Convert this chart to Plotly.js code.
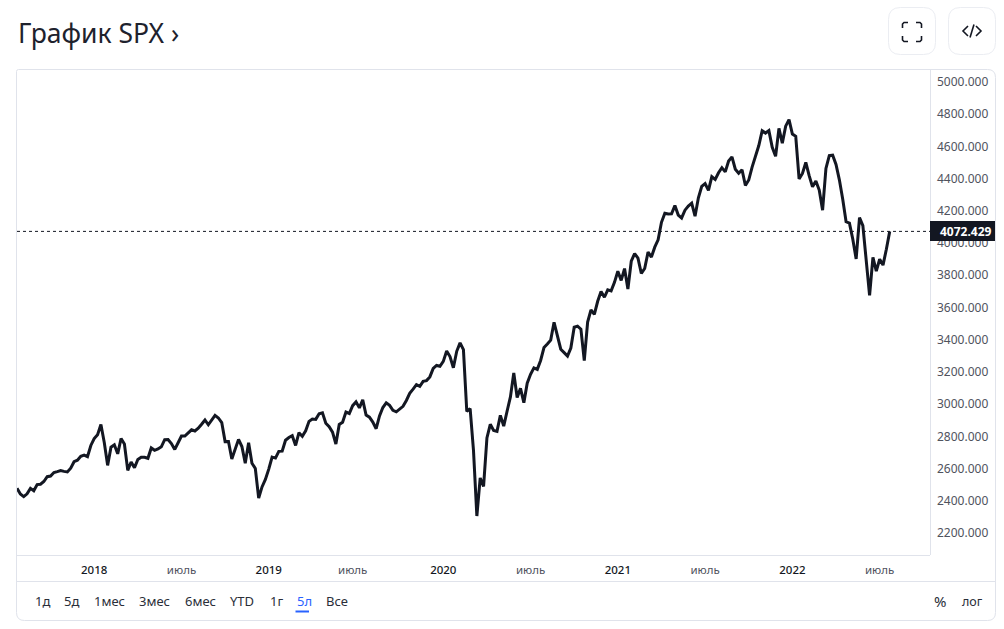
<!DOCTYPE html>
<html>
<head>
<meta charset="utf-8">
<script src="https://cdn.plot.ly/plotly-3.0.1.min.js"></script>
<style>html,body{margin:0;padding:0;background:#fff;overflow:hidden}#chart{width:1004px;height:629px}</style>
</head>
<body>
<div id="chart"></div>
<script>
// Weekly closes, one array per calendar year
const close2017 = [2476.83,2441.32,2425.55,2443.05,2476.55,2461.43,2500.23,2502.22,2519.36,2549.33,2553.17,2575.21,2581.07,2587.84,2582.30,2578.85,2602.42,2642.22,2651.50,2675.81,2683.34,2673.61];
const close2018 = [2743.15,2786.24,2810.30,2872.87,2762.13,2619.55,2732.22,2747.30,2691.25,2786.57,2752.01,2588.26,2640.87,2604.47,2656.30,2670.14,2669.91,2663.42,2727.72,2712.97,2721.33,2734.62,2779.03,2779.66,2754.88,2718.37,2759.82,2801.31,2801.83,2818.82,2840.35,2833.28,2850.13,2874.69,2901.52,2871.68,2904.98,2929.67,2913.98,2885.57,2767.13,2767.78,2658.69,2723.06,2781.01,2736.27,2632.56,2760.17,2633.08,2599.95,2416.62,2485.74];
const close2019 = [2531.94,2596.26,2670.71,2664.76,2706.53,2707.88,2775.60,2792.67,2803.69,2743.07,2822.48,2800.71,2834.40,2892.74,2907.41,2905.03,2939.88,2945.64,2881.40,2859.53,2826.06,2752.06,2873.34,2886.98,2950.46,2941.76,2990.41,3013.77,2976.61,3025.86,2932.05,2918.65,2888.68,2847.11,2926.46,2978.71,3007.39,2992.07,2961.79,2952.01,2970.27,2986.20,3022.55,3066.91,3093.08,3120.46,3110.29,3140.98,3145.91,3168.80,3221.22,3240.02];
const close2020 = [3234.85,3265.35,3329.62,3295.47,3225.52,3327.71,3380.16,3337.75,2954.22,2972.37,2711.02,2304.92,2541.47,2488.65,2789.82,2874.56,2836.74,2830.71,2929.80,2863.70,2955.45,3044.31,3193.93,3041.31,3097.74,3009.05,3130.01,3185.04,3224.73,3215.63,3271.12,3351.28,3372.85,3397.16,3508.01,3426.96,3340.97,3319.47,3298.46,3348.44,3477.14,3483.81,3465.39,3269.96,3509.44,3585.15,3557.54,3638.35,3699.12,3663.46,3709.41,3703.06,3756.07];
const close2021 = [3824.68,3768.25,3841.47,3714.24,3886.83,3934.83,3906.71,3811.15,3841.94,3943.34,3913.10,3974.54,4019.87,4128.80,4185.47,4180.17,4181.17,4232.60,4173.85,4155.86,4204.11,4229.89,4247.44,4166.45,4280.70,4352.34,4369.55,4327.16,4411.79,4395.26,4436.52,4468.00,4441.67,4509.37,4535.43,4458.58,4432.99,4455.48,4357.04,4391.34,4471.37,4544.90,4605.38,4697.53,4682.85,4697.96,4594.62,4538.43,4712.02,4620.64,4725.79,4766.18];
const close2022 = [4677.03,4662.85,4397.94,4431.85,4500.53,4418.64,4348.87,4384.65,4328.87,4204.31,4463.12,4543.06,4545.86,4488.28,4392.59,4271.78,4131.93,4123.34,4023.89,3901.36,4158.24,4108.54,3900.86,3674.84,3911.74,3825.33,3899.38,3863.16,3961.63,4072.43];

const firstWeek = "2017-07-31";
const lastPriceLabel = "4072.429";
const lastPrice = 4072.429;
const priceTicks = [2200,2400,2600,2800,3000,3200,3400,3600,3800,4000,4200,4400,4600,4800,5000];
const dateTicks = ["2018-01-08","2018-07-09","2019-01-07","2019-07-01","2020-01-06","2020-07-06","2021-01-04","2021-07-05","2022-01-03","2022-07-04"];
const dateTickLabels = ["2018","июль","2019","июль","2020","июль","2021","июль","2022","июль"];
const rangeButtons = ["1д","5д","1мес","3мес","6мес","YTD","1г","5л","Все"];
const titleText = "График SPX ›";

const values = [].concat(close2017, close2018, close2019, close2020, close2021, close2022);
const weekMs = 7 * 864e5;
const t0 = Date.parse(firstWeek + "T00:00:00Z");
const dates = values.map((_, i) => new Date(t0 + i * weekMs).toISOString().slice(0, 10));

const W = 1004, H = 629, L = 17, R = 930, T = 70, B = 555;
const px = x => (x - L) / (R - L);
const py = y => (B - y) / (B - T);
const borderColor = "#e0e3eb", ink = "#131722", muted = "#50535e";

function roundRect(x0, y0, x1, y1, r) {
  const [tl, tr, br, bl] = Array.isArray(r) ? r : [r, r, r, r];
  const P = (x, y) => px(x) + "," + py(y);
  return "M" + P(x0 + tl, y0) + " L" + P(x1 - tr, y0) + " Q" + P(x1, y0) + " " + P(x1, y0 + tr) +
    " L" + P(x1, y1 - br) + " Q" + P(x1, y1) + " " + P(x1 - br, y1) +
    " L" + P(x0 + bl, y1) + " Q" + P(x0, y1) + " " + P(x0, y1 - bl) +
    " L" + P(x0, y0 + tl) + " Q" + P(x0, y0) + " " + P(x0 + tl, y0) + " Z";
}
function polyline(points) {
  return points.map((p, i) => (i ? "L" : "M") + px(p[0]) + "," + py(p[1])).join(" ");
}
const hair = (x0, y0, x1, y1, color, width) => ({
  type: "line", xref: "paper", yref: "paper", x0: px(x0), x1: px(x1), y0: py(y0), y1: py(y1),
  line: {color: color || borderColor, width: width || 1}
});
const outline = (path, color, width) => ({
  type: "path", xref: "paper", yref: "paper", path: path,
  line: {color: color, width: width}
});
const corner = pts => outline(polyline(pts), ink, 1.6);

const shapes = [
  outline(roundRect(16.5, 69.5, 995.5, 620.5, [2, 8, 8, 8]), borderColor, 1),
  hair(17, 555.5, 930, 555.5),
  hair(17, 581.5, 995, 581.5),
  hair(930.5, 70, 930.5, 555),
  outline(roundRect(888.5, 7.5, 935.5, 54.5, 12), "#ebedf2", 1),
  outline(roundRect(948.5, 7.5, 995.5, 54.5, 12), "#ebedf2", 1),
  // fullscreen icon
  corner([[902.5, 28], [902.5, 24], [904, 22.5], [908, 22.5]]),
  corner([[916, 22.5], [920, 22.5], [921.5, 24], [921.5, 28]]),
  corner([[921.5, 36], [921.5, 40], [920, 41.5], [916, 41.5]]),
  corner([[908, 41.5], [904, 41.5], [902.5, 40], [902.5, 36]]),
  // code icon
  corner([[968, 26], [963, 31], [968, 36]]),
  corner([[976, 26], [981, 31], [976, 36]]),
  corner([[974, 24.5], [970, 37.5]]),
  // dotted last-price line
  {type: "line", xref: "paper", yref: "y", x0: 0, x1: 1, y0: lastPrice, y1: lastPrice,
   line: {color: "#131722", width: 1, dash: "dot"}},
  // last-price box
  {type: "rect", xref: "paper", yref: "paper", x0: px(930), x1: px(995), y0: py(221), y1: py(241),
   fillcolor: ink, line: {width: 0}},
  // active range underline
  hair(295.5, 611.5, 309, 611.5, "#2962ff", 2)
];

const note = (text, x, y, size, color, extra) => Object.assign({
  text: text, xref: "paper", yref: "paper", x: px(x), y: py(y),
  xanchor: "left", yanchor: "middle", showarrow: false,
  font: {family: "Noto Sans, sans-serif", size: size, color: color}
}, extra || {});

const buttonX = [33, 62, 92, 137, 183, 228, 268, 295, 324];
const annotations = [
  note(titleText, 16, 33, 26.5, "#1e222d"),
  note(lastPriceLabel, 938, 231, 12, "#ffffff", {font: {family: "Noto Sans, sans-serif", size: 12, color: "#ffffff", weight: 700}}),
  note("%", 932, 601, 15, "#2a2e39"),
  note("лог", 960, 601, 12.5, "#2a2e39")
];
rangeButtons.forEach((b, i) => {
  annotations.push(note(b, buttonX[i], 601, 13, b === "5л" ? "#2962ff" : "#2a2e39"));
});

const trace = {
  type: "scatter", mode: "lines", x: dates, y: values,
  line: {color: ink, width: 3, shape: "linear"}, hoverinfo: "skip", cliponaxis: true
};

const layout = {
  width: W, height: H, autosize: false,
  margin: {l: L, r: W - R, t: T, b: H - B, pad: 0},
  paper_bgcolor: "#fff", plot_bgcolor: "#fff",
  showlegend: false, hovermode: false, dragmode: false,
  font: {family: "Noto Sans, sans-serif", color: muted, size: 12},
  xaxis: {
    type: "date", range: ["2017-07-31", "2022-10-17"],
    showgrid: false, zeroline: false, showline: false, ticks: "",
    tickmode: "array", tickvals: dateTicks,
    ticktext: dateTickLabels.map(s => /\d/.test(s) ? '<span style="color:#131722;font-weight:500">' + s + '</span>' : s),
    tickangle: 0, tickfont: {size: 11.5, color: muted, family: "Noto Sans, sans-serif"},
    ticklabelstandoff: 6
  },
  yaxis: {
    side: "right", range: [2063, 5074.5],
    showgrid: false, zeroline: false, showline: false, ticks: "",
    tickmode: "array", tickvals: priceTicks, tickformat: ".3f",
    tickfont: {size: 12, color: muted, family: "Noto Sans, sans-serif"},
    ticklabelstandoff: 6
  },
  shapes: shapes,
  annotations: annotations
};

Plotly.newPlot("chart", [trace], layout, {displayModeBar: false, staticPlot: true, responsive: false});
</script>
</body>
</html>
